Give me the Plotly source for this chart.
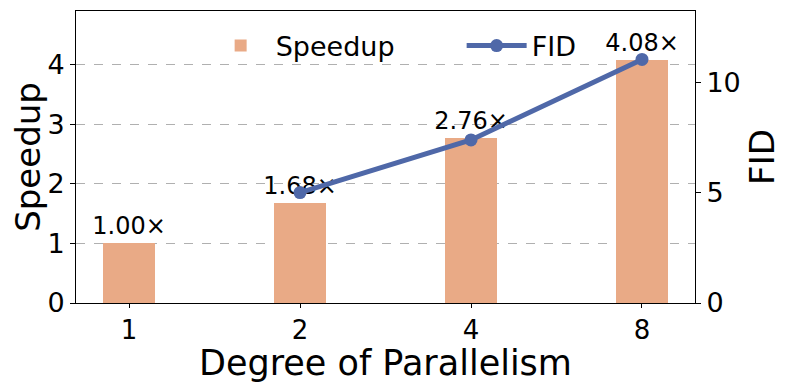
import plotly.graph_objects as go

categories = ["1", "2", "4", "8"]
speedup = [1.00, 1.68, 2.76, 4.08]
speedup_labels = ["1.00×", "1.68×", "2.76×", "4.08×"]
fid_categories = ["2", "4", "8"]
fid = [5.02, 7.41, 11.07]
x_title = "Degree of Parallelism"

BAR = "#e9aa86"
LINE = "#4f68a8"
FONT = "DejaVu Sans"

fig = go.Figure()
fig.add_trace(go.Bar(
    x=categories, y=speedup, name="Speedup", width=0.3,
    marker=dict(color=BAR, line=dict(width=0)),
    text=speedup_labels, textposition="outside", cliponaxis=False,
    constraintext="none",
    textfont=dict(family=FONT, size=24, color="black"),
))
fig.add_trace(go.Scatter(
    x=fid_categories, y=fid, name="FID", yaxis="y2", mode="lines+markers",
    line=dict(color=LINE, width=5), marker=dict(color=LINE, size=13),
))

fig.update_layout(
    width=774, height=374,
    margin=dict(l=68, r=87, t=3, b=79, autoexpand=False),
    plot_bgcolor="white", paper_bgcolor="white",
    font=dict(family=FONT, size=27, color="black"),
    showlegend=True,
    legend=dict(orientation="h", x=0.623, y=0.88, xanchor="center", yanchor="middle",
                font=dict(size=27), itemwidth=60, bgcolor="rgba(0,0,0,0)",
                entrywidth=181, entrywidthmode="pixels",
                traceorder="normal"),
    bargap=0,
    xaxis=dict(type="category", range=[-0.31, 3.31], automargin=False,
               showline=True, linecolor="black", linewidth=1, mirror=True,
               ticks="outside", ticklen=4, tickcolor="black", showgrid=False,
               tickfont=dict(size=26)),
    yaxis=dict(range=[0, 4.896], tickvals=[0, 1, 2, 3, 4], automargin=False,
               title=dict(text="Speedup", font=dict(size=34), standoff=10),
               showline=True, linecolor="black", linewidth=1,
               ticks="outside", ticklen=5, tickcolor="black",
               showgrid=True, gridcolor="#b0b0b0", griddash="dash", gridwidth=1,
               zeroline=False, tickfont=dict(size=27)),
    yaxis2=dict(range=[0, 13.27], tickvals=[0, 5, 10], overlaying="y", side="right",
                automargin=False,
                title=dict(text="FID", font=dict(size=34), standoff=10),
                showline=True, linecolor="black", linewidth=1,
                ticks="outside", ticklen=5, tickcolor="black",
                showgrid=False, zeroline=False, tickfont=dict(size=27)),
    annotations=[dict(text=x_title, xref="paper", yref="paper", x=0.5, y=-0.205,
                      xanchor="center", yanchor="middle", showarrow=False,
                      font=dict(size=35, family=FONT, color="black"))],
)

fig.write_html("out.html")
